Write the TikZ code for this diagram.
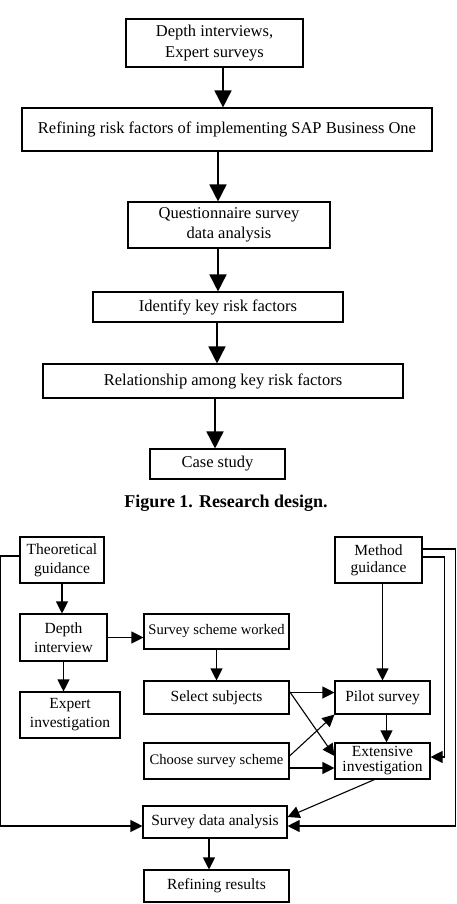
\documentclass[tikz,border=0pt]{standalone}
\usepackage{fontspec}
\setmainfont{Liberation Serif}
\usetikzlibrary{arrows.meta}

\begin{document}
\begin{tikzpicture}[x=1pt, y=-1pt,
  topbox/.style={draw, line width=1.1pt, inner sep=0pt, align=center, font=\fontsize{16.5}{20.5}\selectfont},
  botbox/.style={draw, line width=1.1pt, inner sep=0pt, align=center, font=\fontsize{15.5}{19}\selectfont},
  bigarr/.style={line width=1.6pt, -{Triangle[length=17pt,width=17pt]}},
  arr/.style={line width=1.1pt, -{Triangle[length=12pt,width=12pt]}},
]
\useasboundingbox (0,0) rectangle (456,904);

% Figure 1
\node[topbox, minimum width=177pt, minimum height=48pt] (dep) at (214.5,43) {Depth interviews,\\Expert surveys};
\node[topbox, minimum width=410pt, minimum height=43pt] (ref) at (227,129.5) {Refining risk factors of implementing SAP Business One};
\node[topbox, minimum width=202pt, minimum height=46pt] (que) at (229,225) {Questionnaire survey\\data analysis};
\node[topbox, minimum width=250pt, minimum height=30pt] (ide) at (218,307) {Identify key risk factors};
\node[topbox, minimum width=360pt, minimum height=34pt] (rel) at (223,381) {Relationship among key risk factors};
\node[topbox, minimum width=135pt, minimum height=30pt] (cas) at (217.5,464) {Case study};

\draw[bigarr] ([xshift=8.5pt]dep.south) -- ([xshift=8.5pt]dep.south |- ref.north);
\draw[bigarr] ([xshift=-9pt]ref.south) -- ([xshift=-9pt]ref.south |- que.north);
\draw[bigarr] ([xshift=-11pt]que.south) -- ([xshift=-11pt]que.south |- ide.north);
\draw[bigarr] ([xshift=-1pt]ide.south) -- ([xshift=-1pt]ide.south |- rel.north);
\draw[bigarr] ([xshift=-8pt]rel.south) -- ([xshift=-8pt]rel.south |- cas.north);

\node[font=\fontsize{18}{20}\selectfont\bfseries] (cap) at (226,503) {Figure 1. Research design.};

% Figure 2
\node[botbox, minimum width=84pt, minimum height=46pt] (theo) at (62,560) {Theoretical\\guidance};
\node[botbox, minimum width=87pt, minimum height=46pt, font=\fontsize{15.5}{17}\selectfont] (meth) at (378.5,560) {Method\\guidance};
\node[botbox, minimum width=87pt, minimum height=47pt] (depth) at (63.5,637.5) {Depth\\interview};
\node[botbox, minimum width=145pt, minimum height=35pt, font=\fontsize{14.6}{17}\selectfont] (ssw) at (216.5,631.5) {Survey scheme worked};
\node[botbox, minimum width=100pt, minimum height=46pt] (expert) at (70,715) {Expert\\investigation};
\node[botbox, minimum width=145pt, minimum height=33pt] (sel) at (216.5,697.5) {Select subjects};
\node[botbox, minimum width=95pt, minimum height=33pt] (pilot) at (382.5,697.5) {Pilot survey};
\node[botbox, minimum width=145pt, minimum height=36pt, font=\fontsize{14.6}{17}\selectfont] (choose) at (216.5,761) {Choose survey scheme};
\node[botbox, minimum width=95pt, minimum height=36pt, font=\fontsize{15.5}{15}\selectfont] (ext) at (382.5,761) {Extensive\\investigation};
\node[botbox, minimum width=144pt, minimum height=32pt] (sda) at (215,822) {Survey data analysis};
\node[botbox, minimum width=145pt, minimum height=32pt] (refres) at (216.5,886) {Refining results};

\draw[arr] (theo.south) -- (theo.south |- depth.north);
\draw[arr] (depth.south) -- (depth.south |- expert.north);
\draw[arr] (depth.east) -- (depth.east -| ssw.west);
\draw[arr] (ssw.south) -- (sel.north);
\draw[arr] ([yshift=5pt]sel.east) -- ([yshift=5pt]sel.east -| pilot.west);
\draw[arr] ([yshift=6pt]sel.east) -- ([yshift=5pt]ext.west);
\draw[arr] ([yshift=5pt]choose.east) -- (pilot.south west);
\draw[arr] ([yshift=-7pt]choose.east) -- ([yshift=-7pt]choose.east -| ext.west);
\draw[arr] ([xshift=4pt]pilot.south) -- ([xshift=4pt]ext.north);
\draw[arr] (pilot.north |- meth.south) -- (pilot.north);
\draw[arr] ([xshift=-8pt]ext.south) -- ([yshift=5pt]sda.east);
\draw[arr] ([yshift=4pt]theo.west) -- ++(-19,0) |- ([yshift=-4pt]sda.west);
\draw[arr] ([yshift=11pt]meth.east) -- ++(33,0) |- ([yshift=-4pt]sda.east);
\draw[arr] ([yshift=3pt]meth.east) -- ++(22,0) |- ([yshift=4pt]ext.east);
\draw[arr] ([xshift=-6pt]sda.south) -- ([xshift=-6pt]sda.south |- refres.north);
\end{tikzpicture}
\end{document}
